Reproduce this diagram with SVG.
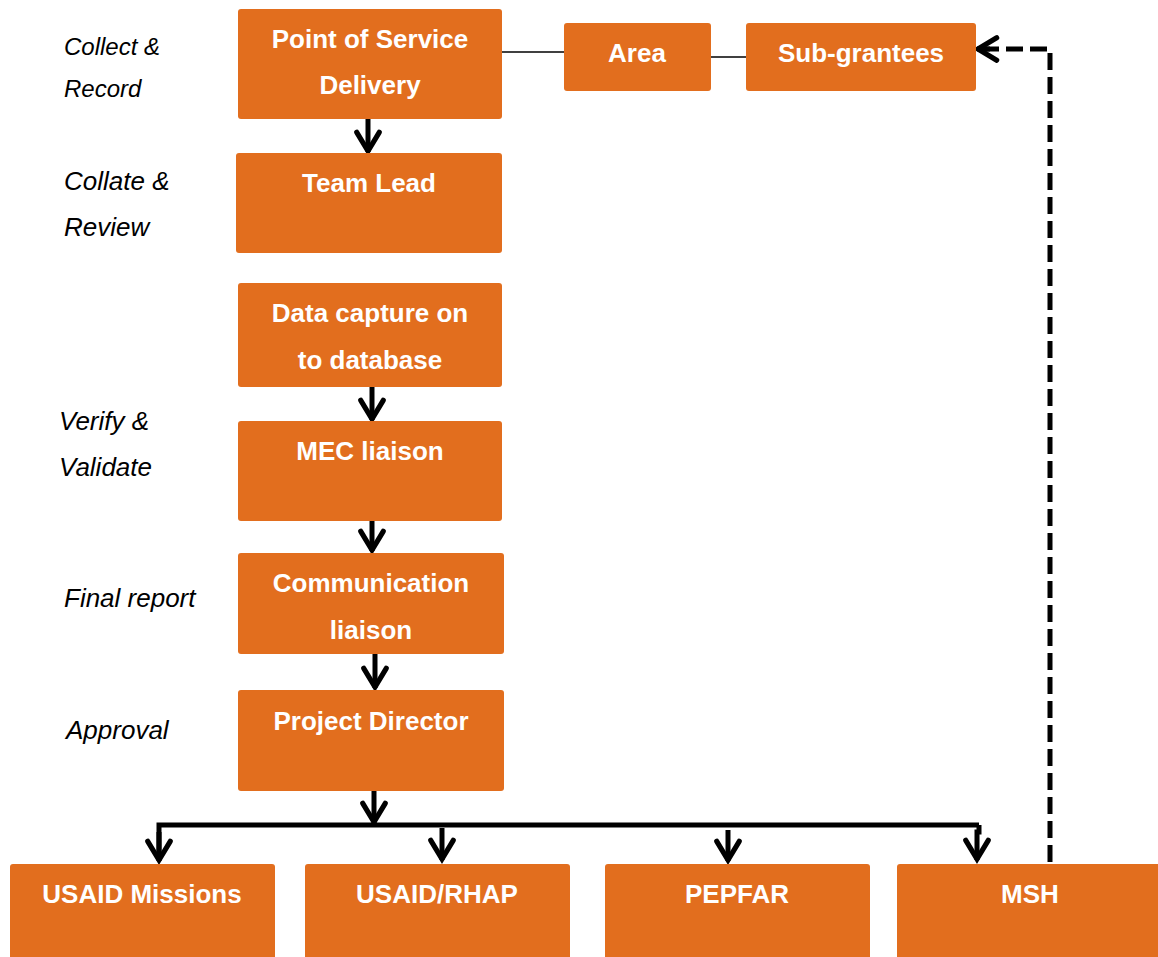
<svg xmlns="http://www.w3.org/2000/svg" width="1158" height="957" viewBox="0 0 1158 957">
<style>
.box{fill:#E26E1E;}
.bt{font-family:"Liberation Sans",Arial,sans-serif;font-weight:bold;font-size:26px;fill:#FFFFFF;text-anchor:middle;}
.lbl{font-family:"Liberation Sans",Arial,sans-serif;font-style:italic;font-size:26px;fill:#000000;}
.lbl24{font-size:24px;}
.arr{fill:none;stroke:#000;stroke-width:5;}
.thin{fill:none;stroke:#000;stroke-width:1.5;}
.dash{fill:none;stroke:#000;stroke-width:5;stroke-dasharray:17 7;}
</style>
<defs>
<marker id="chev" markerUnits="userSpaceOnUse" markerWidth="30" markerHeight="30" viewBox="-26 -16 32 32" refX="0" refY="0" orient="auto" overflow="visible">
<path d="M-21,-12 L-1,0 L-21,12" fill="none" stroke="#000" stroke-width="5.5" stroke-linecap="round" stroke-linejoin="miter"/>
</marker>
</defs>
<rect width="1158" height="957" fill="#FFFFFF"/>

<g id="labels">
<text class="lbl lbl24" x="64" y="55">Collect &amp;</text>
<text class="lbl lbl24" x="64" y="97">Record</text>
<text class="lbl" x="64" y="190">Collate &amp;</text>
<text class="lbl" x="64" y="236">Review</text>
<text class="lbl" x="59" y="430">Verify &amp;</text>
<text class="lbl" x="59" y="476">Validate</text>
<text class="lbl" x="64" y="607">Final report</text>
<text class="lbl" x="66" y="739">Approval</text>
</g>

<g id="connectors">
<line class="thin" x1="502" y1="52" x2="564" y2="52"/>
<line class="thin" x1="711" y1="57" x2="746" y2="57"/>
<line class="arr" x1="368" y1="119" x2="368" y2="152" marker-end="url(#chev)"/>
<line class="arr" x1="372" y1="387" x2="372" y2="420" marker-end="url(#chev)"/>
<line class="arr" x1="372" y1="521" x2="372" y2="551" marker-end="url(#chev)"/>
<line class="arr" x1="375" y1="654" x2="375" y2="688" marker-end="url(#chev)"/>
<line class="arr" x1="374" y1="791" x2="374" y2="823" marker-end="url(#chev)"/>
<path class="arr" d="M159,860 L159,825 L979,825"/>
<line class="arr" x1="159" y1="832" x2="159" y2="861" marker-end="url(#chev)"/>
<line class="arr" x1="442" y1="828" x2="442" y2="860" marker-end="url(#chev)"/>
<line class="arr" x1="728" y1="830" x2="728" y2="861" marker-end="url(#chev)"/>
<path class="arr" d="M979,825 L979,832 L977,832 L977,860" marker-end="url(#chev)"/>
<path class="dash" d="M1050,862 L1050,49 L980,49"/>
<line class="arr" x1="990" y1="49" x2="977" y2="49" marker-end="url(#chev)"/>
</g>

<g id="node-pos"><rect class="box" x="238" y="9" width="264" height="110" rx="3"/>
<text class="bt" x="370" y="48">Point of Service</text><text class="bt" x="370" y="94">Delivery</text></g>
<g id="node-area"><rect class="box" x="564" y="23" width="147" height="68" rx="3"/>
<text class="bt" x="637" y="62">Area</text></g>
<g id="node-subgrantees"><rect class="box" x="746" y="23" width="230" height="68" rx="3"/>
<text class="bt" x="861" y="62">Sub-grantees</text></g>
<g id="node-teamlead"><rect class="box" x="236" y="153" width="266" height="100" rx="3"/>
<text class="bt" x="369" y="192">Team Lead</text></g>
<g id="node-datacapture"><rect class="box" x="238" y="283" width="264" height="104" rx="3"/>
<text class="bt" x="370" y="322">Data capture on</text><text class="bt" x="370" y="369">to database</text></g>
<g id="node-mec"><rect class="box" x="238" y="421" width="264" height="100" rx="3"/>
<text class="bt" x="370" y="460">MEC liaison</text></g>
<g id="node-comm"><rect class="box" x="238" y="553" width="266" height="101" rx="3"/>
<text class="bt" x="371" y="592">Communication</text><text class="bt" x="371" y="639">liaison</text></g>
<g id="node-pd"><rect class="box" x="238" y="690" width="266" height="101" rx="3"/>
<text class="bt" x="371" y="730">Project Director</text></g>
<g id="node-usaidmissions"><rect class="box" x="10" y="864" width="265" height="100" rx="3"/>
<text class="bt" x="142" y="903">USAID Missions</text></g>
<g id="node-rhap"><rect class="box" x="305" y="864" width="265" height="100" rx="3"/>
<text class="bt" x="437" y="903">USAID/RHAP</text></g>
<g id="node-pepfar"><rect class="box" x="605" y="864" width="265" height="100" rx="3"/>
<text class="bt" x="737" y="903">PEPFAR</text></g>
<g id="node-msh"><rect class="box" x="897" y="864" width="265" height="100" rx="3"/>
<text class="bt" x="1030" y="903">MSH</text></g>
</svg>
